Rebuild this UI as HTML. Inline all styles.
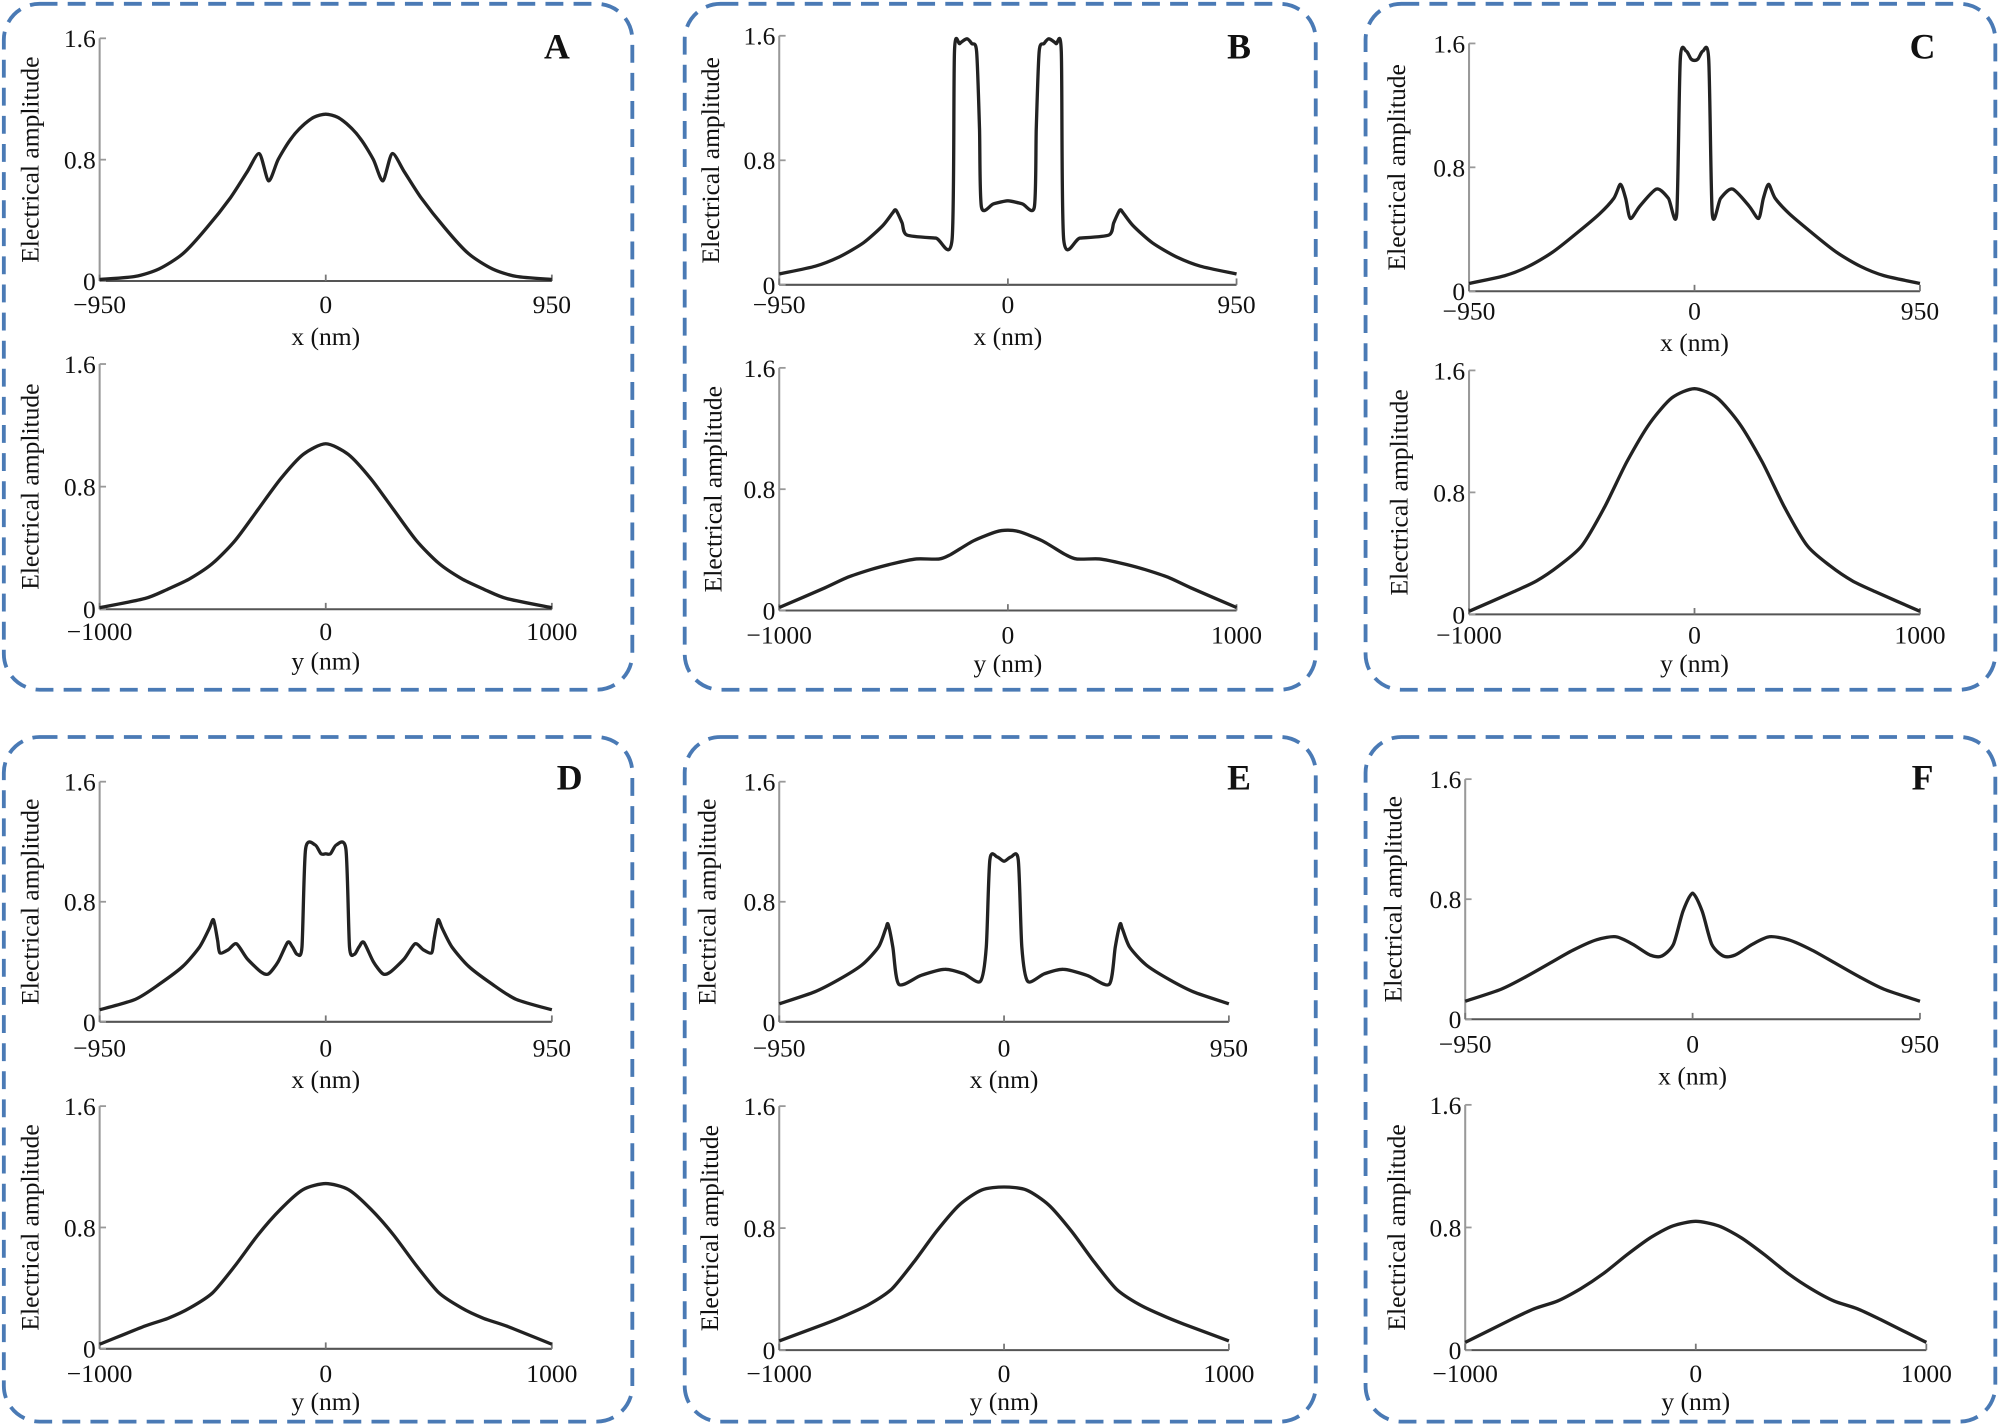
<!DOCTYPE html>
<html><head><meta charset="utf-8"><style>
html,body{margin:0;padding:0;background:#fff}
svg{display:block}
text{font-family:"Liberation Serif",serif;fill:#111}
</style></head><body>
<svg id="fig" width="2003" height="1428" viewBox="0 0 1568 1118" preserveAspectRatio="none" xmlns="http://www.w3.org/2000/svg"></svg>
<script>
// Half-profiles (symmetric curves), x in nm from left edge to center; mirrored about 0.
const aTopX=[-950,-800,-700,-600,-500,-400,-330,-279,-240,-200,-150,-100,-50,0];
const aTopY=[0.01,0.03,0.08,0.18,0.35,0.55,0.72,0.84,0.66,0.8,0.93,1.02,1.08,1.1];
const aBotX=[-1000,-800,-700,-600,-500,-400,-300,-200,-100,0];
const aBotY=[0.01,0.07,0.13,0.2,0.3,0.45,0.65,0.85,1.01,1.08];
const bTopX=[-950,-800,-700,-600,-520,-480,-465,-440,-420,-300,-232,-222,-200,-170,-150,-130,-118,-110,-60,0];
const bTopY=[0.07,0.12,0.18,0.27,0.38,0.46,0.48,0.40,0.32,0.30,0.29,1.5,1.55,1.58,1.55,1.5,1.0,0.5,0.52,0.54];
const bBotX=[-1000,-800,-700,-600,-500,-400,-300,-250,-150,-50,0];
const bBotY=[0.02,0.15,0.22,0.27,0.31,0.34,0.34,0.37,0.46,0.52,0.53];
const cTopX=[-950,-800,-700,-600,-500,-400,-340,-312,-290,-270,-230,-160,-110,-75,-60,-35,-15,0];
const cTopY=[0.05,0.1,0.16,0.25,0.37,0.5,0.6,0.69,0.6,0.47,0.55,0.66,0.6,0.5,1.5,1.55,1.5,1.49];
const cBotX=[-1000,-800,-700,-600,-500,-400,-300,-200,-100,0];
const cBotY=[0.02,0.15,0.22,0.32,0.45,0.7,1.0,1.25,1.42,1.48];
const dTopX=[-950,-800,-700,-600,-530,-490,-472,-455,-445,-410,-375,-330,-270,-240,-200,-160,-140,-120,-100,-85,-45,-20,0];
const dTopY=[0.08,0.15,0.25,0.37,0.5,0.62,0.68,0.55,0.46,0.48,0.52,0.42,0.33,0.32,0.4,0.53,0.5,0.45,0.5,1.15,1.18,1.12,1.12];
const dBotX=[-1000,-800,-700,-600,-500,-400,-300,-200,-100,0];
const dBotY=[0.03,0.15,0.2,0.27,0.37,0.55,0.75,0.92,1.05,1.09];
const eTopX=[-950,-800,-700,-600,-530,-500,-490,-470,-445,-350,-250,-170,-100,-75,-60,-30,0];
const eTopY=[0.12,0.2,0.28,0.38,0.5,0.62,0.65,0.5,0.25,0.31,0.35,0.32,0.27,0.5,1.08,1.1,1.07];
const eBotX=[-1000,-800,-700,-600,-500,-400,-300,-200,-100,0];
const eBotY=[0.06,0.17,0.23,0.3,0.4,0.58,0.78,0.95,1.05,1.07];
const fTopX=[-950,-800,-700,-600,-500,-400,-320,-250,-180,-130,-80,-40,0];
const fTopY=[0.12,0.2,0.28,0.37,0.46,0.53,0.55,0.5,0.43,0.42,0.5,0.72,0.84];
const fBotX=[-1000,-800,-700,-600,-500,-400,-300,-200,-100,0];
const fBotY=[0.05,0.2,0.27,0.32,0.4,0.5,0.62,0.73,0.81,0.84];
const xTicksTop=["−950","0","950"];
const xTicksBot=["−1000","0","1000"];
const yTicks=["0","0.8","1.6"];

const NS="http://www.w3.org/2000/svg";
const svg=document.getElementById('fig');
function mk(tag,attrs,parent){const e=document.createElementNS(NS,tag);for(const k in attrs)e.setAttribute(k,attrs[k]);(parent||svg).appendChild(e);return e;}

const boxes=[[3,3,492,537,'A',436,46],[536,3,494,537,'B',970,46],[1069,3,493,537,'C',1505,46],
[3,577,492,536,'D',446,618],[536,577,494,536,'E',970,618],[1069,577,493,536,'F',1505,618]];
boxes.forEach(b=>{
  const r=mk('rect',{x:b[0],y:b[1],width:b[2],height:b[3],rx:28,fill:'none',stroke:'#4a7ab5','stroke-width':3,'stroke-dasharray':'14 8'});
  
  
  const t=mk('text',{x:b[5],y:b[6],'font-size':28,'font-weight':'bold','text-anchor':'middle'});
  t.textContent=b[4];
  
  
});

// plot: [name, x0,x1, y0(zero), y16(1.6), xmin,xmax, tickLabelY, titleY, titleText, ylabelX, halfX, halfY, ticks]
const plots=[
 ['a-top',78,432,220,30,-950,950,238,263,'x (nm)',30,aTopX,aTopY,xTicksTop],
 ['a-bottom',78,432,477,285,-1000,1000,494,517,'y (nm)',30,aBotX,aBotY,xTicksBot],
 ['b-top',610,968,223,28,-950,950,238,263,'x (nm)',563,bTopX,bTopY,xTicksTop],
 ['b-bottom',610,968,478,288,-1000,1000,497,519,'y (nm)',565,bBotX,bBotY,xTicksBot],
 ['c-top',1150,1503,228,34,-950,950,243,268,'x (nm)',1100,cTopX,cTopY,xTicksTop],
 ['c-bottom',1150,1503,481,290,-1000,1000,497,519,'y (nm)',1102,cBotX,cBotY,xTicksBot],
 ['d-top',78,432,800,612,-950,950,820,845,'x (nm)',30,dTopX,dTopY,xTicksTop],
 ['d-bottom',78,432,1056,866,-1000,1000,1075,1097,'y (nm)',30,dBotX,dBotY,xTicksBot],
 ['e-top',610,962,800,612,-950,950,820,845,'x (nm)',560,eTopX,eTopY,xTicksTop],
 ['e-bottom',610,962,1057,866,-1000,1000,1075,1097,'y (nm)',562,eBotX,eBotY,xTicksBot],
 ['f-top',1147,1503,798,610,-950,950,817,842,'x (nm)',1097,fTopX,fTopY,xTicksTop],
 ['f-bottom',1147,1508,1057,865,-1000,1000,1075,1097,'y (nm)',1100,fBotX,fBotY,xTicksBot]
];

plots.forEach(p=>{
  const [name,x0,x1,yz,yt,xmin,xmax,tly,tiy,title,ylx,hx,hy,ticks]=p;
  const g=mk('g',{});
  
  
  const sx=v=>x0+(v-xmin)/(xmax-xmin)*(x1-x0);
  const sy=v=>yz-(v/1.6)*(yz-yt);
  const ya=mk('line',{x1:x0,y1:yt,x2:x0,y2:yz,stroke:'#999','stroke-width':1.6},g);
  
  
  const xa=mk('line',{x1:x0,y1:yz,x2:x1,y2:yz,stroke:'#555','stroke-width':1.6},g);
  
  
  [0,0.8,1.6].forEach((v,i)=>{
    mk('line',{x1:x0,y1:sy(v),x2:x0+5,y2:sy(v),stroke:'#999','stroke-width':1.4},g);
    const t=mk('text',{x:x0-3,y:sy(v)+7,'font-size':20,'text-anchor':'end'},g);
    t.textContent=yTicks[i];
    
    
  });
  [xmin,0,xmax].forEach((v,i)=>{
    mk('line',{x1:sx(v),y1:yz,x2:sx(v),y2:yz-5,stroke:'#777','stroke-width':1.4},g);
    const t=mk('text',{x:sx(v),y:tly+7,'font-size':20,'text-anchor':'middle'},g);
    t.textContent=ticks[i];
    
    
  });
  const xt=mk('text',{x:sx(0),y:tiy+7,'font-size':20,'text-anchor':'middle'},g);
  xt.textContent=title;
  
  
  const cy=(yz+yt)/2;
  const yt2=mk('text',{x:ylx,y:cy,'font-size':20,'text-anchor':'middle',transform:'rotate(-90 '+ylx+' '+cy+')'},g);
  yt2.textContent='Electrical amplitude';
  
  
  // full profile = half + mirrored half
  const xs=hx.slice(), ys=hy.slice();
  for(let i=hx.length-2;i>=0;i--){xs.push(-hx[i]);ys.push(hy[i]);}
  const pts=xs.map((v,i)=>[sx(v),sy(ys[i])]);
  let d='M'+pts[0][0].toFixed(1)+','+pts[0][1].toFixed(1);
  for(let i=0;i<pts.length-1;i++){
    const p0=pts[Math.max(0,i-1)],p1=pts[i],p2=pts[i+1],p3=pts[Math.min(pts.length-1,i+2)];
    const k=1/8;
    const c1=[p1[0]+(p2[0]-p0[0])*k,p1[1]+(p2[1]-p0[1])*k];
    const c2=[p2[0]-(p3[0]-p1[0])*k,p2[1]-(p3[1]-p1[1])*k];
    d+=' C'+c1[0].toFixed(1)+','+c1[1].toFixed(1)+' '+c2[0].toFixed(1)+','+c2[1].toFixed(1)+' '+p2[0].toFixed(1)+','+p2[1].toFixed(1);
  }
  const path=mk('path',{d:d,fill:'none',stroke:'#222','stroke-width':2.6,'stroke-linejoin':'round'},g);
  
  
});
</script>
</body></html>
